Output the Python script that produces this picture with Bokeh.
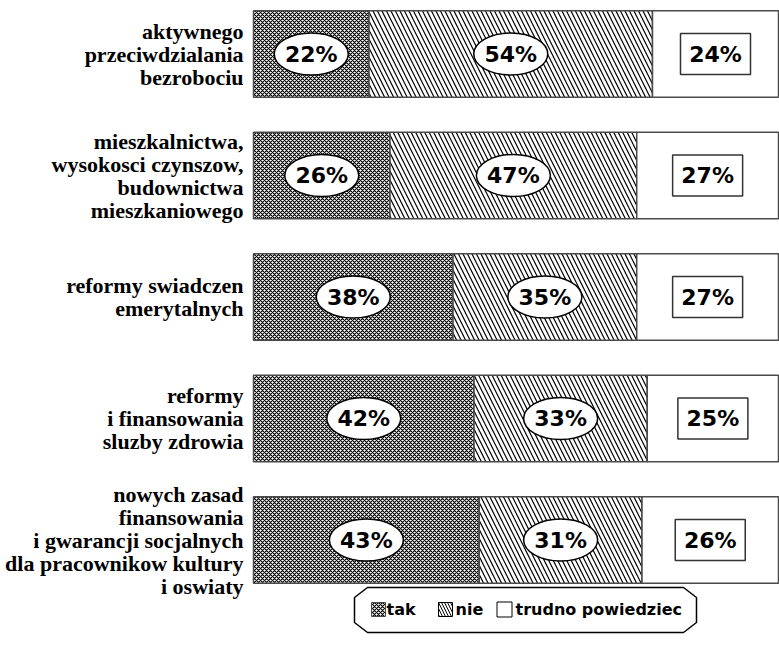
from bokeh.plotting import figure
from bokeh.models import Range1d, ColumnDataSource
from bokeh.core.properties import value
from bokeh.embed import file_html
from bokeh.resources import INLINE

# ---- data ----
categories = [
    "aktywnego\nprzeciwdzialania\nbezrobociu",
    "mieszkalnictwa,\nwysokosci czynszow,\nbudownictwa\nmieszkaniowego",
    "reformy swiadczen\nemerytalnych",
    "reformy\ni finansowania\nsluzby zdrowia",
    "nowych zasad\nfinansowania\ni gwarancji socjalnych\ndla pracownikow kultury\ni oswiaty",
]
tak = [22, 26, 38, 42, 43]
nie = [54, 47, 35, 33, 31]
trudno = [24, 27, 27, 25, 26]
series_names = ["tak", "nie", "trudno powiedziec"]

# ---- layout helpers (pixel -> data) ----
W, H = 779, 645
PX_PER_UNIT = 5.25          # 100 % = 525 px
FRAME_X0 = 253              # px from figure left to bar start
ROW_PX = 121.5              # px between bar centres
ROW0_PX = 53.5              # px from figure top to first bar centre

x_start = -FRAME_X0 / PX_PER_UNIT
x_end = (W - FRAME_X0) / PX_PER_UNIT
y_top = -ROW0_PX / ROW_PX
y_bot = (H - ROW0_PX) / ROW_PX

def dx(px):
    return (px - FRAME_X0) / PX_PER_UNIT

def dy(py):
    return (py - ROW0_PX) / ROW_PX

p = figure(width=W, height=H, output_backend="svg", toolbar_location=None,
           x_range=Range1d(x_start, x_end), y_range=Range1d(y_bot, y_top),
           x_axis_type=None, y_axis_type=None, min_border=0)
p.outline_line_color = None
p.grid.visible = False
p.background_fill_color = "white"

idx = list(range(len(categories)))
l1 = [0] * len(tak)
r1 = tak
r2 = [a + b for a, b in zip(tak, nie)]
r3 = [a + b + c for a, b, c in zip(tak, nie, trudno)]

src = ColumnDataSource(dict(
    y=idx, l1=l1, r1=r1, r2=r2, r3=r3,
    c1=[(a + b) / 2 for a, b in zip(l1, r1)],
    c2=[(a + b) / 2 for a, b in zip(r1, r2)],
    c3=[(a + b) / 2 for a, b in zip(r2, r3)],
    t1=[f"{v}%" for v in tak], t2=[f"{v}%" for v in nie], t3=[f"{v}%" for v in trudno],
    lab=categories,
))

BAR_H = 0.71
OUT = "#4a4a4a"
TAK_STYLE = dict(fill_color="white", hatch_pattern="diagonal_cross", hatch_color="black",
                 hatch_scale=4, hatch_weight=1.15)
p.hbar(y="y", left="l1", right="r1", height=BAR_H, source=src,
       line_color=OUT, line_width=1.5, **TAK_STYLE)
p.hbar(y="y", left="r1", right="r2", height=BAR_H, source=src,
       fill_color="white", hatch_pattern="left_diagonal_line", hatch_color="black",
       hatch_scale=9, hatch_weight=1.2, line_color=OUT, line_width=1.5)
p.hbar(y="y", left="r2", right="r3", height=BAR_H, source=src,
       fill_color="white", line_color=OUT, line_width=1.5)

# value labels
p.ellipse(x="c1", y="y", width=74, height=42, width_units="screen", height_units="screen",
          source=src, fill_color="white", line_color="black", line_width=1.5)
p.ellipse(x="c2", y="y", width=74, height=42, width_units="screen", height_units="screen",
          source=src, fill_color="white", line_color="black", line_width=1.5)
p.rect(x="c3", y="y", width=70, height=41, width_units="screen", height_units="screen",
       source=src, fill_color="white", line_color="#333333", line_width=1.5)
for col, xc in (("t1", "c1"), ("t2", "c2"), ("t3", "c3")):
    p.text(x=xc, y="y", text=col, source=src, text_align="center", text_baseline="middle",
           text_font=value("DejaVu Sans"), text_font_style="bold", text_font_size="22px",
           text_color="black")

# category labels
p.text(x=dx(243), y="y", text="lab", source=src, text_align="right", text_baseline="middle",
       text_font=value("Liberation Serif"), text_font_style="bold", text_font_size="22px",
       text_line_height=0.92, text_color="black")

# ---- legend (octagonal frame) ----
lx0, lx1, ly0, ly1, cx, cy = 354, 696, 587, 632, 13, 10
oct_x = [lx0 + cx, lx1 - cx, lx1, lx1, lx1 - cx, lx0 + cx, lx0, lx0]
oct_y = [ly0, ly0, ly0 + cy, ly1 - cy, ly1, ly1, ly1 - cy, ly0 + cy]
p.patch([dx(v) for v in oct_x], [dy(v) for v in oct_y], fill_color="white",
        line_color="black", line_width=1.5)

leg_y = dy(609)
sq_x = [378, 445, 504]
tx_x = [386, 455, 515]
p.rect(x=[dx(sq_x[0])], y=[leg_y], width=14, height=14, width_units="screen",
       height_units="screen", line_color=OUT, line_width=1, **TAK_STYLE)
p.rect(x=[dx(sq_x[1])], y=[leg_y], width=14, height=14, width_units="screen",
       height_units="screen", fill_color="white", hatch_pattern="left_diagonal_line",
       hatch_color="black", hatch_scale=6, hatch_weight=1, line_color="black", line_width=1)
p.rect(x=[dx(sq_x[2])], y=[leg_y], width=15, height=15, width_units="screen",
       height_units="screen", fill_color="white", line_color="black", line_width=1)
p.text(x=[dx(v) for v in tx_x], y=[leg_y] * 3, text=series_names, text_align="left",
       text_baseline="middle", text_font=value("DejaVu Sans"), text_font_style="bold",
       text_font_size="16px", text_color="black")

open("out.html", "w").write(file_html(p, INLINE))
